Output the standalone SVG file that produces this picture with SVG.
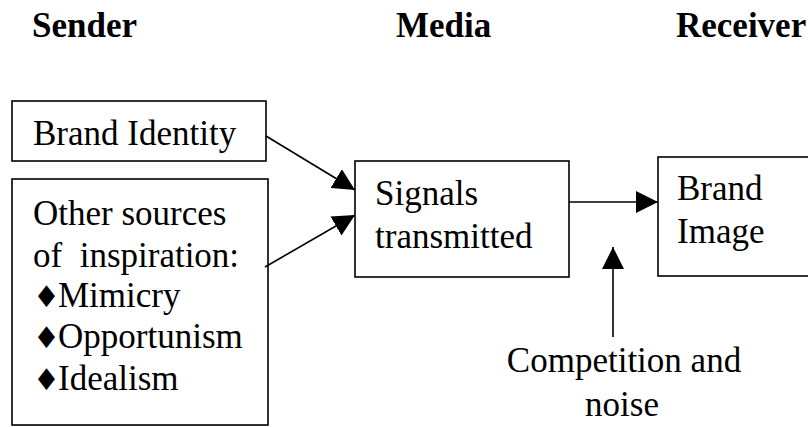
<svg xmlns="http://www.w3.org/2000/svg" width="808" height="427" viewBox="0 0 808 427">
<defs>
<style>
.box{fill:#fff;stroke:#000;stroke-width:1.6}
.t{font-family:'Liberation Serif','Times New Roman',Tinos,Times,serif;font-size:35px;fill:#000}
.h{font-family:'Liberation Serif','Times New Roman',Tinos,Times,serif;font-size:35px;font-weight:bold;fill:#000}
.c{stroke:#000;stroke-width:1.6;fill:none}
.d{font-family:'DejaVu Sans',sans-serif;font-size:30px}
</style>
<marker id="ah" markerUnits="userSpaceOnUse" markerWidth="22" markerHeight="22" viewBox="0 0 20 20" refX="20" refY="10" orient="auto">
<path d="M0,0 L20,10 L0,20 Z" fill="#000"/>
</marker>
</defs>
<rect width="808" height="427" fill="#fff"/>
<g id="headings">
<text class="h" x="32" y="37">Sender</text>
<text class="h" x="396" y="37">Media</text>
<text class="h" x="676" y="37">Receiver</text>
</g>
<g id="brand-identity">
<rect class="box" x="12" y="101" width="254" height="60"/>
<text class="t" x="33" y="145">Brand Identity</text>
</g>
<g id="other-sources">
<rect class="box" x="12" y="179" width="256" height="246"/>
<text class="t" x="33" y="225">Other sources</text>
<text class="t" x="33" y="267" xml:space="preserve">of  inspiration:</text>
<text class="t" y="307"><tspan class="d" x="33">♦</tspan><tspan x="58">Mimicry</tspan></text>
<text class="t" y="348"><tspan class="d" x="33">♦</tspan><tspan x="58">Opportunism</tspan></text>
<text class="t" y="390"><tspan class="d" x="33">♦</tspan><tspan x="58">Idealism</tspan></text>
</g>
<g id="signals">
<rect class="box" x="355" y="161" width="214" height="116"/>
<text class="t" x="375" y="205">Signals</text>
<text class="t" x="375" y="248">transmitted</text>
</g>
<g id="brand-image">
<rect class="box" x="658" y="157" width="160" height="119"/>
<text class="t" x="677" y="200">Brand</text>
<text class="t" x="677" y="243">Image</text>
</g>
<g id="competition">
<text class="t" x="624" y="372" text-anchor="middle">Competition and</text>
<text class="t" x="622" y="416" text-anchor="middle">noise</text>
</g>
<g id="connectors">
<line class="c" x1="266" y1="136" x2="355" y2="190" marker-end="url(#ah)"/>
<line class="c" x1="265" y1="267" x2="355" y2="215" marker-end="url(#ah)"/>
<line class="c" x1="569" y1="202" x2="658" y2="202" marker-end="url(#ah)"/>
<line class="c" x1="613" y1="337" x2="613" y2="247" marker-end="url(#ah)"/>
</g>
</svg>
